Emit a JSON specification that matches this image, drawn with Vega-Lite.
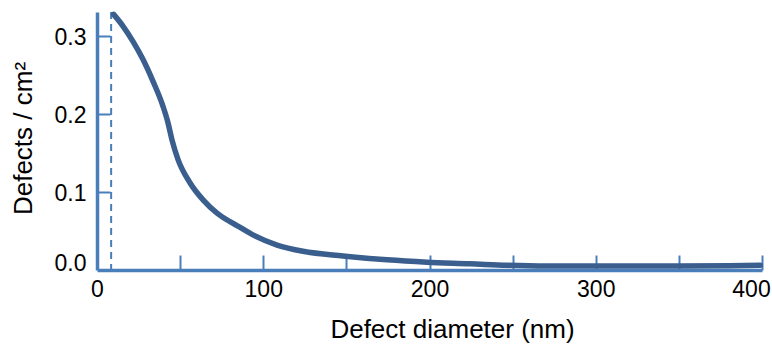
{
  "$schema": "https://vega.github.io/schema/vega-lite/v6.json",
  "width": 665,
  "height": 258,
  "autosize": "none",
  "padding": {"left": 97, "top": 12, "right": 10, "bottom": 76},
  "background": "white",
  "config": {
    "view": {"stroke": null},
    "font": "Liberation Sans",
    "axis": {"grid": false, "labelFont": "Liberation Sans", "titleFont": "Liberation Sans", "labelColor": "black", "titleColor": "black", "labelFontSize": 23, "titleFontSize": 26, "titleFontWeight": "normal", "domainColor": "#4a7ebb", "tickColor": "#4a7ebb", "domainWidth": 3.5, "tickWidth": 2}
  },
  "datasets": {
    "curve": [
      {"d": 10, "v": 0.328},
      {"d": 15.6, "v": 0.313},
      {"d": 21.7, "v": 0.293},
      {"d": 27.7, "v": 0.27},
      {"d": 33.7, "v": 0.242},
      {"d": 39.7, "v": 0.21},
      {"d": 42.7, "v": 0.189},
      {"d": 45.1, "v": 0.167},
      {"d": 48.7, "v": 0.142},
      {"d": 55.9, "v": 0.112},
      {"d": 63.8, "v": 0.09},
      {"d": 72.2, "v": 0.073},
      {"d": 80, "v": 0.062},
      {"d": 84.2, "v": 0.057},
      {"d": 93.8, "v": 0.045},
      {"d": 108.3, "v": 0.032},
      {"d": 123.9, "v": 0.024},
      {"d": 148, "v": 0.018},
      {"d": 174.4, "v": 0.013},
      {"d": 198.5, "v": 0.01},
      {"d": 224.4, "v": 0.008},
      {"d": 246.6, "v": 0.006},
      {"d": 270, "v": 0.005},
      {"d": 294.7, "v": 0.005},
      {"d": 340, "v": 0.005},
      {"d": 380, "v": 0.0055},
      {"d": 399, "v": 0.006}
    ],
    "marker": [{"d": 8.5}]
  },
  "layer": [
    {
      "data": {"name": "marker"},
      "mark": {"type": "rule", "color": "#4a7ebb", "strokeWidth": 2, "strokeDash": [7, 5]},
      "encoding": {
        "x": {"field": "d", "type": "quantitative", "scale": {"domain": [0, 400], "nice": false}}
      }
    },
    {
      "data": {"name": "curve"},
      "mark": {"type": "line", "color": "#3a5f8e", "strokeWidth": 5.5, "interpolate": "monotone", "strokeCap": "round", "clip": false},
      "encoding": {
        "x": {
          "field": "d", "type": "quantitative",
          "scale": {"domain": [0, 400], "nice": false},
          "axis": {
            "title": "Defect diameter (nm)",
            "values": [0, 50, 100, 150, 200, 250, 300, 350, 400],
            "labelExpr": "datum.value % 100 === 0 ? datum.label : ''",
            "tickSize": -15,
            "tickOpacity": {"condition": {"test": "datum.value === 0", "value": 0}, "value": 1},
            "labelPadding": 23,
            "labelOffset": {"condition": {"test": "datum.value === 400", "value": -11}, "value": 0},
            "labelFlush": false,
            "titleX": 355,
            "titleY": 67,
            "titleAlign": "center",
            "titleBaseline": "alphabetic",
            "titleAnchor": null
          }
        },
        "y": {
          "field": "v", "type": "quantitative",
          "scale": {"domain": [0, 0.331], "nice": false},
          "axis": {
            "title": "Defects / cm²",
            "values": [0, 0.1, 0.2, 0.3],
            "format": ".1f",
            "tickSize": -13,
            "tickOpacity": {"condition": {"test": "datum.value === 0", "value": 0}, "value": 1},
            "labelPadding": 24,
            "labelOffset": {"condition": {"test": "datum.value === 0", "value": -7}, "value": 1},
            "labelFlush": false,
            "titleAngle": -90,
            "titleX": -74,
            "titleY": 126,
            "titleAlign": "center",
            "titleBaseline": "middle",
            "titleAnchor": null
          }
        }
      }
    }
  ]
}
